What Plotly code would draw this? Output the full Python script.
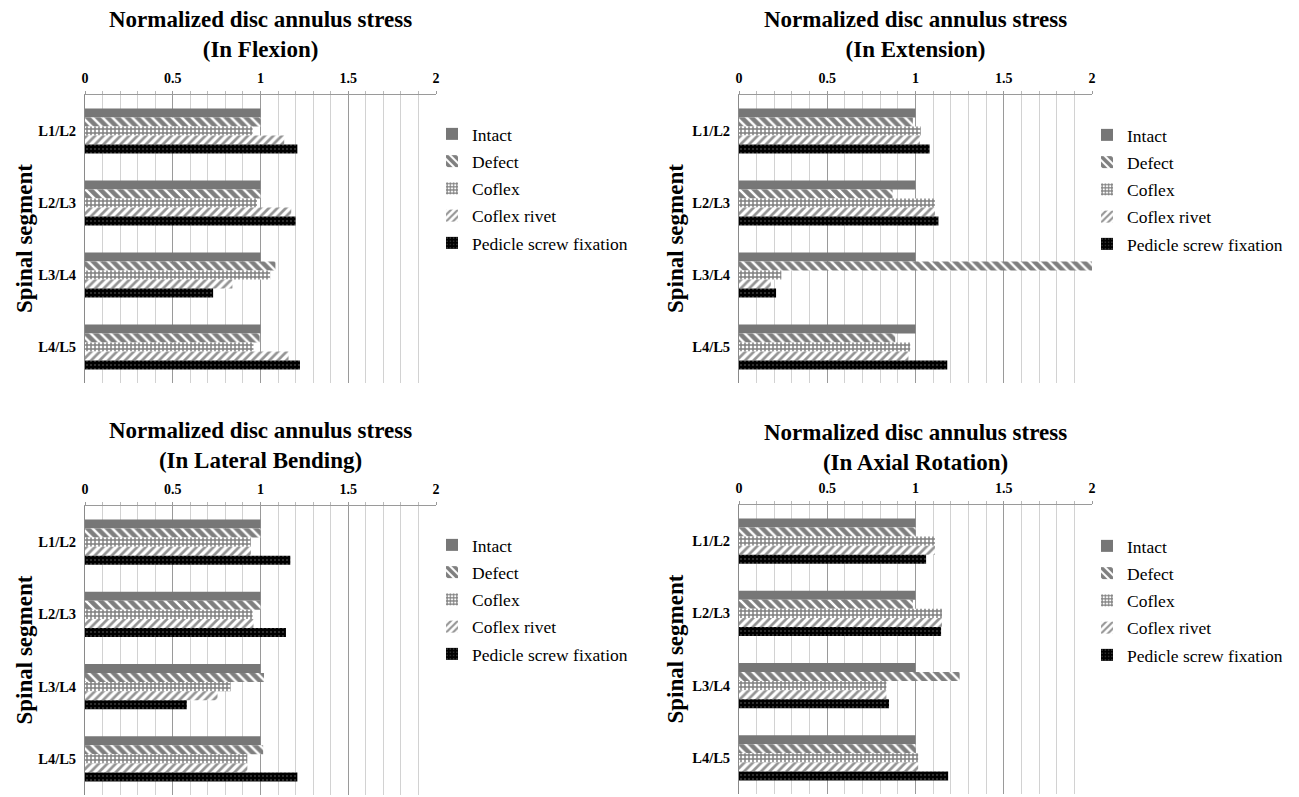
import plotly.graph_objects as go

W, H = 1299, 797

segments = ["L1/L2", "L2/L3", "L3/L4", "L4/L5"]
series_names = ["Intact", "Defect", "Coflex", "Coflex rivet", "Pedicle screw fixation"]
x_ticks = [0, 0.5, 1, 1.5, 2]
x_tick_labels = ["0", "0.5", "1", "1.5", "2"]

titles = ["(In Flexion)", "(In Extension)", "(In Lateral Bending)", "(In Axial Rotation)"]

# Flexion
flex_intact = [1.0, 1.0, 1.0, 1.0]
flex_defect = [1.0, 1.0, 1.085, 0.995]
flex_coflex = [0.955, 0.98, 1.055, 0.96]
flex_rivet = [1.135, 1.175, 0.84, 1.16]
flex_pedicle = [1.21, 1.2, 0.73, 1.225]

# Extension
ext_intact = [1.0, 1.0, 1.0, 1.0]
ext_defect = [0.985, 0.87, 2.0, 0.885]
ext_coflex = [1.03, 1.11, 0.24, 0.97]
ext_rivet = [1.025, 1.11, 0.18, 0.96]
ext_pedicle = [1.08, 1.13, 0.21, 1.18]

# Lateral bending
lat_intact = [1.0, 1.0, 1.0, 1.0]
lat_defect = [1.0, 1.0, 1.02, 1.015]
lat_coflex = [0.945, 0.955, 0.83, 0.925]
lat_rivet = [0.945, 0.96, 0.755, 0.925]
lat_pedicle = [1.17, 1.145, 0.58, 1.21]

# Axial rotation
axi_intact = [1.0, 1.0, 1.0, 1.0]
axi_defect = [1.0, 0.985, 1.25, 1.0]
axi_coflex = [1.11, 1.15, 0.835, 1.015]
axi_rivet = [1.11, 1.15, 0.835, 1.015]
axi_pedicle = [1.06, 1.145, 0.85, 1.185]

panels = [
    [flex_intact, flex_defect, flex_coflex, flex_rivet, flex_pedicle],
    [ext_intact, ext_defect, ext_coflex, ext_rivet, ext_pedicle],
    [lat_intact, lat_defect, lat_coflex, lat_rivet, lat_pedicle],
    [axi_intact, axi_defect, axi_coflex, axi_rivet, axi_pedicle],
]

styles = [
    dict(color="#777777", pattern=dict(shape="")),
    dict(color="white", pattern=dict(shape="\\", fgcolor="black", bgcolor="white", size=7, solidity=0.65)),
    dict(color="white", pattern=dict(shape="+", fgcolor="black", bgcolor="white", size=4, solidity=0.6)),
    dict(color="white", pattern=dict(shape="/", fgcolor="#2a2a2a", bgcolor="white", size=6, solidity=0.45)),
    dict(color="black", pattern=dict(shape=".", fgcolor="#7a7a7a", bgcolor="black", size=4, solidity=0.2)),
]

# pixel layout of the four plot areas: (x0, x1, ytop, ybottom)
areas = [
    (85, 436, 95, 383),
    (739, 1092, 95, 383),
    (85, 436, 506, 795),
    (739, 1092, 505, 794),
]
legend_pos = [(432, 116), (1087, 117), (432, 527), (1087, 528)]
title_y = [35, 35, 446, 447]
ytitle_x = [24, 675, 24, 675]

SERIF = "Liberation Serif"

fig = go.Figure()
layout = dict(
    width=W, height=H,
    margin=dict(l=0, r=0, t=0, b=0, autoexpand=False),
    paper_bgcolor="white", plot_bgcolor="white",
    barmode="group", bargap=0.375, bargroupgap=0,
    font=dict(family=SERIF, color="black"),
    annotations=[],
)

for p, vals in enumerate(panels):
    sfx = "" if p == 0 else str(p + 1)
    xa, ya = "x" + sfx, "y" + sfx
    lg = "legend" + sfx
    for s, name in enumerate(series_names):
        st = styles[s]
        fig.add_trace(go.Bar(
            x=vals[s], y=segments, orientation="h", name=name,
            xaxis=xa, yaxis=ya, legend=lg, legendgroup=f"{p}-{s}",
            marker=dict(color=st["color"], pattern=st["pattern"], line=dict(width=0)),
        ))
    x0, x1, yt, yb = areas[p]
    layout["xaxis" + sfx] = dict(
        domain=[x0 / W, x1 / W], anchor=ya, side="top", range=[0, 2],
        tickvals=x_ticks, ticktext=x_tick_labels, automargin=False,
        tickfont=dict(family=SERIF, size=14, color="black", weight="bold"),
        showgrid=True, gridcolor="#9a9a9a", gridwidth=1,
        showline=True, linecolor="#9a9a9a", linewidth=1,
        ticks="outside", ticklen=3, tickcolor="#9a9a9a",
        ticklabelstandoff=2,
        minor=dict(dtick=0.1, showgrid=True, gridcolor="#d2d2d2", gridwidth=1,
                   ticks="outside", ticklen=3, tickcolor="#bbbbbb"),
        zeroline=False, fixedrange=True,
    )
    layout["yaxis" + sfx] = dict(
        domain=[1 - yb / H, 1 - yt / H], anchor=xa, autorange="reversed",
        type="category", automargin=False,
        tickfont=dict(family=SERIF, size=14.5, color="black", weight="bold"),
        showline=True, linecolor="#8a8a8a", linewidth=1, ticks="",
        ticklabelstandoff=5, showgrid=False, zeroline=False,
    )
    lx, ly = legend_pos[p]
    layout[lg] = dict(
        x=lx / W, y=1 - ly / H, xanchor="left", yanchor="top",
        font=dict(family=SERIF, size=17.5, color="black"),
        traceorder="grouped", tracegroupgap=1.5, itemwidth=30,
        bgcolor="rgba(0,0,0,0)",
    )
    layout["annotations"].append(dict(
        text="<b>Normalized disc annulus stress</b><br><b>" + titles[p] + "</b>",
        x=(x0 + x1) / 2 / W, y=1 - title_y[p] / H, xref="paper", yref="paper",
        xanchor="center", yanchor="middle", showarrow=False,
        font=dict(family=SERIF, size=23, color="black"),
    ))
    layout["annotations"].append(dict(
        text="<b>Spinal segment</b>", textangle=-90,
        x=ytitle_x[p] / W, y=1 - (yt + yb) / 2 / H, xref="paper", yref="paper",
        xanchor="center", yanchor="middle", showarrow=False,
        font=dict(family=SERIF, size=23, color="black"),
    ))

fig.update_layout(**layout)
fig.write_html(
    "out.html",
    config={"displayModeBar": False},
    post_script="document.body.style.margin='0';document.body.style.overflow='hidden';",
)
